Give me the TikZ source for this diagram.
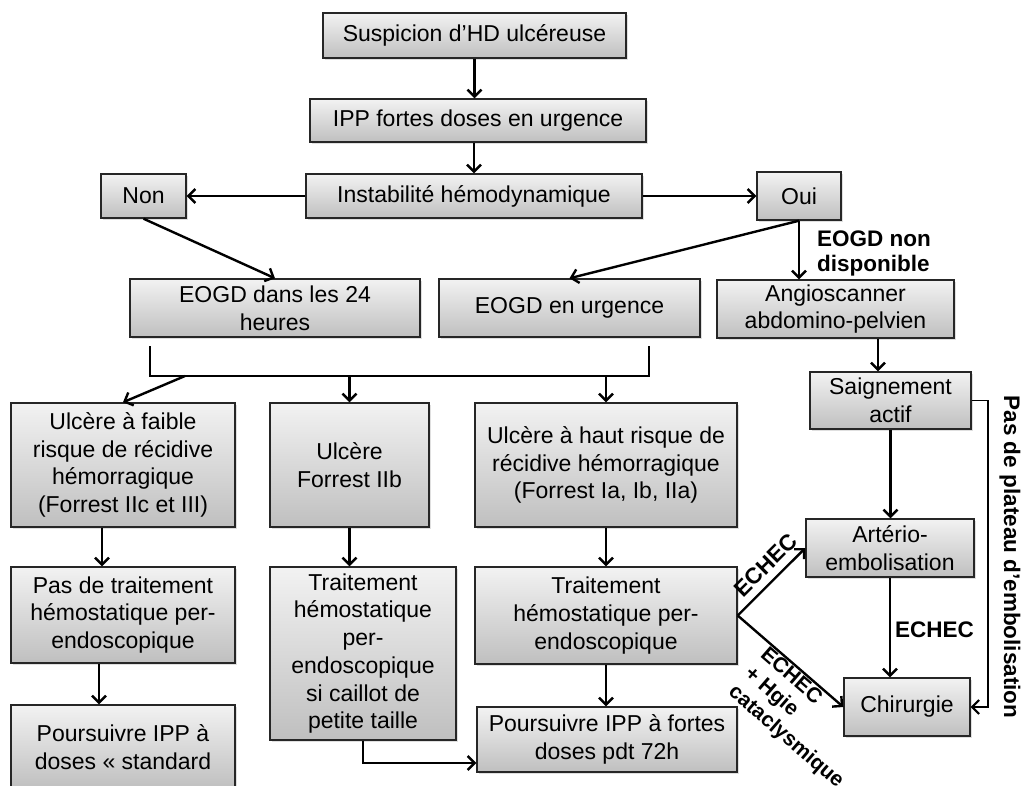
\documentclass[tikz,border=0pt]{standalone}
\usepackage{fontspec}
\setmainfont{Liberation Sans}
\usetikzlibrary{arrows.meta,calc,shadows}
\newcommand\bxfont{\fontsize{23}{27.7}\selectfont}
\newcommand\lbfont{\fontsize{22.5}{25}\selectfont\bfseries}
\newcommand\lbsfont{\fontsize{21}{24.5}\selectfont\bfseries}
\begin{document}
\begin{tikzpicture}[x=1pt,y=-1pt,
  box/.style={draw=black!85, line width=1.4pt, top color=gray!10, bottom color=gray!50,
    align=center, inner sep=0pt, font=\bxfont,
    drop shadow={opacity=0.25, shadow xshift=1.5pt, shadow yshift=-1.5pt}},
  arr/.style={draw=black, line width=2.4pt, -{Straight Barb[length=7pt,width=14pt,line width=2.4pt]}},
  thin arr/.style={draw=black, line width=1.6pt, -{Straight Barb[length=7pt,width=14pt,line width=2pt]}},
  ln/.style={draw=black, line width=2.4pt},
  lbl/.style={font=\lbfont, inner sep=2pt}]
\useasboundingbox (0,0) rectangle (1030,785);
\clip (0,0) rectangle (1030,785);
% boxes
\node[box, minimum width=303pt, minimum height=45pt] (sus) at (474.5,35.5) {Suspicion d’HD ulcéreuse};
\node[box, minimum width=336pt, minimum height=43pt] (ipp) at (478,120.5) {IPP fortes doses en urgence};
\node[box, minimum width=336pt, minimum height=44pt] (inst) at (474,196) {Instabilité hémodynamique};
\node[box, minimum width=85pt, minimum height=44pt] (non) at (143.5,196) {Non};
\node[box, minimum width=84pt, minimum height=48pt] (oui) at (799,196) {Oui};
\node[box, minimum width=290pt, minimum height=58pt] (e24) at (275,308) {EOGD dans les 24\\heures};
\node[box, minimum width=261pt, minimum height=58pt] (eurg) at (569.5,308) {EOGD en urgence};
\node[box, minimum width=237pt, minimum height=58pt] (angio) at (835.5,309) {Angioscanner\\abdomino-pelvien};
\node[box, minimum width=224pt, minimum height=124pt] (ufaible) at (123,465) {Ulcère à faible\\risque de récidive\\hémorragique\\(Forrest IIc et III)};
\node[box, minimum width=159pt, minimum height=124pt] (uIIb) at (349.5,465) {Ulcère\\Forrest IIb};
\node[box, minimum width=262pt, minimum height=124pt] (uhaut) at (606,465) {Ulcère à haut risque de\\récidive hémorragique\\(Forrest Ia, Ib, IIa)};
\node[box, minimum width=224pt, minimum height=96pt] (pas) at (123,615) {Pas de traitement\\hémostatique per-\\endoscopique};
\node[box, minimum width=186pt, minimum height=173pt] (tIIb) at (363,653.5) {Traitement\\hémostatique\\per-\\endoscopique\\si caillot de\\petite taille};
\node[box, minimum width=262pt, minimum height=97pt] (thaut) at (606,615.5) {Traitement\\hémostatique per-\\endoscopique};
\node[box, minimum width=224pt, minimum height=84pt] (pstd) at (123,747) {Poursuivre IPP à\\doses « standard};
\node[box, minimum width=260pt, minimum height=65pt] (pfortes) at (607,739.5) {Poursuivre IPP à fortes\\doses pdt 72h};
\node[box, minimum width=161pt, minimum height=57pt] (saig) at (890.5,400.5) {Saignement\\actif};
\node[box, minimum width=168pt, minimum height=58pt] (arter) at (890,548) {Artério-\\embolisation};
\node[box, minimum width=126pt, minimum height=58pt] (chir) at (907,707) {Chirurgie};
% connectors top
\draw[arr] (sus.south) -- (sus.south |- ipp.north);
\draw[arr] (inst.north |- ipp.south) -- (inst.north);
\draw[arr] (inst.west) -- (non.east);
\draw[arr] (inst.east) -- (oui.west);
\draw[arr] (non.south) -- (e24.north);
\draw[arr] (oui.south) -- (eurg.north);
\draw[arr] (oui.south) -- (oui.south |- angio.north);
\node[lbl, anchor=west, align=left] (nondisp) at (815,253) {EOGD non\\disponible};
% bracket
\coordinate (b1) at (150,346);
\coordinate (b2) at (150,376);
\coordinate (b3) at (649,376);
\coordinate (b4) at (649,346);
\coordinate (bl) at (185,376);
\draw[ln] (b1) -- (b2) -- (b3) -- (b4);
\draw[arr] (bl) -- (ufaible.north);
\draw[arr] (uIIb.north |- b2) -- (uIIb.north);
\draw[arr] (uhaut.north |- b2) -- (uhaut.north);
% columns
\draw[arr] ([xshift=-21pt]ufaible.south) -- ([xshift=-21pt]ufaible.south |- pas.north);
\draw[arr] ([xshift=-24pt]pas.south) -- ([xshift=-24pt]pas.south |- pstd.north);
\draw[arr] (uIIb.south) -- (uIIb.south |- tIIb.north);
\draw[arr] (tIIb.south) |- ($(pfortes.west)+(0,23.5)$);
\draw[arr] (uhaut.south) -- (thaut.north);
\draw[arr] (thaut.south) -- (thaut.south |- pfortes.north);
% right branch
\draw[arr] ([xshift=42.5pt]angio.south) -- ([xshift=-12.5pt]saig.north);
\draw[arr] (saig.south) -- (saig.south |- arter.north);
\draw[arr] (arter.south) -- (arter.south |- chir.north);
\node[lbl, anchor=west] (echec1) at (893,630) {ECHEC};
\draw[thin arr] (saig.east) -- ++(16,0) |- (chir.east);
\node[lbl, rotate=-90] (plat) at (1010,557) {Pas de plateau d’embolisation};
\draw[arr] (thaut.east) -- node[lbl, sloped, above=5pt, pos=0.58] (echec2) {ECHEC} (arter.west);
\draw[arr] (thaut.east) -- node[sloped, below, pos=0.83, align=left, inner sep=1pt, font=\lbsfont] (echec3) {ECHEC\\+ Hgie\\cataclysmique} (chir.west);
\end{tikzpicture}
\end{document}
